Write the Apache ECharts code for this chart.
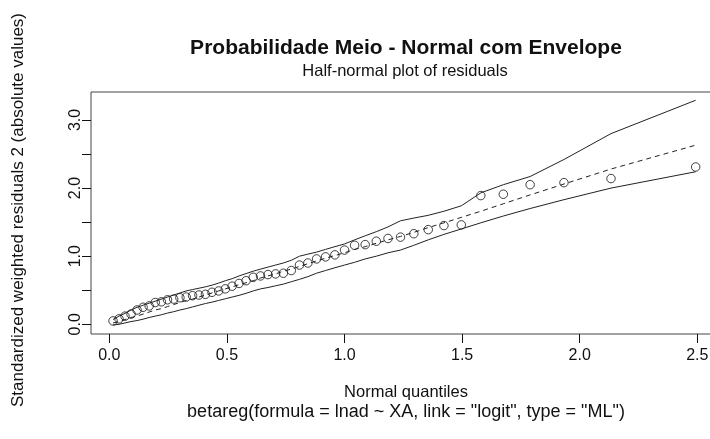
<!DOCTYPE html>
<html>
<head>
<meta charset="utf-8">
<script src="https://cdn.jsdelivr.net/npm/echarts@6/dist/echarts.min.js"></script>
<style>
  html, body { margin: 0; padding: 0; background: #ffffff; }
  #chart { width: 710px; height: 439px; }
</style>
</head>
<body>
<div id="chart"></div>
<script>
// Half-normal quantiles (x) for the 49 ordered absolute residuals
const quantiles = [0.0159, 0.0414, 0.0668, 0.0924, 0.1180, 0.1436, 0.1694, 0.1953, 0.2213, 0.2474,
  0.2738, 0.3003, 0.3270, 0.3540, 0.3812, 0.4087, 0.4366, 0.4648, 0.4933, 0.5222,
  0.5516, 0.5815, 0.6119, 0.6429, 0.6745, 0.7069, 0.7399, 0.7737, 0.8085, 0.8443,
  0.8813, 0.9194, 0.9590, 1.0001, 1.0429, 1.0879, 1.1351, 1.1849, 1.2380, 1.2947,
  1.3559, 1.4227, 1.4965, 1.5795, 1.6752, 1.7891, 1.9330, 2.1330, 2.4930];

// Ordered absolute standardized weighted residuals 2
const residuals = [0.05, 0.08, 0.12, 0.15, 0.21, 0.25, 0.27, 0.32, 0.33, 0.36,
  0.37, 0.39, 0.40, 0.42, 0.43, 0.44, 0.47, 0.49, 0.52, 0.56,
  0.60, 0.64, 0.69, 0.71, 0.73, 0.74, 0.75, 0.79, 0.87, 0.90,
  0.96, 0.99, 1.02, 1.09, 1.16, 1.17, 1.22, 1.26, 1.28, 1.33,
  1.39, 1.45, 1.46, 1.89, 1.91, 2.05, 2.08, 2.14, 2.31];

// Simulated envelope: lower bound, mean, upper bound
const envLower = [-0.01, 0.00, 0.02, 0.04, 0.055, 0.075, 0.10, 0.12, 0.14, 0.165,
  0.185, 0.21, 0.23, 0.255, 0.28, 0.305, 0.325, 0.35, 0.375, 0.40,
  0.425, 0.455, 0.49, 0.52, 0.54, 0.565, 0.59, 0.625, 0.66, 0.70,
  0.75, 0.79, 0.83, 0.87, 0.91, 0.96, 1.00, 1.05, 1.09, 1.16,
  1.24, 1.32, 1.40, 1.49, 1.59, 1.70, 1.83, 2.00, 2.24];

const envMean = [0.02, 0.04, 0.07, 0.10, 0.12, 0.15, 0.18, 0.21, 0.23, 0.26,
  0.29, 0.32, 0.35, 0.37, 0.40, 0.43, 0.46, 0.49, 0.52, 0.55,
  0.58, 0.61, 0.64, 0.68, 0.71, 0.74, 0.78, 0.81, 0.85, 0.89,
  0.93, 0.97, 1.01, 1.05, 1.10, 1.14, 1.19, 1.24, 1.29, 1.35,
  1.42, 1.49, 1.57, 1.66, 1.77, 1.90, 2.06, 2.28, 2.63];

const envUpper = [0.07, 0.12, 0.16, 0.21, 0.25, 0.28, 0.31, 0.34, 0.37, 0.40,
  0.43, 0.46, 0.49, 0.51, 0.53, 0.55, 0.575, 0.605, 0.64, 0.67,
  0.71, 0.745, 0.78, 0.81, 0.84, 0.87, 0.90, 0.94, 1.00, 1.03,
  1.06, 1.10, 1.14, 1.18, 1.24, 1.30, 1.36, 1.43, 1.52, 1.56,
  1.60, 1.66, 1.74, 1.93, 2.05, 2.17, 2.42, 2.80, 3.29];

// Axis ticks and labels
const xTicks = [0, 0.5, 1, 1.5, 2, 2.5];
const yTicks = [0, 0.5, 1, 1.5, 2, 2.5, 3];
const yLabels = [0, 1, 2, 3];

const titleText = 'Probabilidade Meio - Normal com Envelope';
const subtitleText = 'Half-normal plot of residuals';
const xTitle = 'Normal quantiles';
const xCaption = 'betareg(formula = lnad ~ XA, link = "logit", type = "ML")';
const yTitle = 'Standardized weighted residuals 2 (absolute values)';

const FONT = '"Liberation Sans", Arial, sans-serif';
const INK = '#111';

const pairs = (ys) => quantiles.map((q, i) => [q, ys[i]]);

const chart = echarts.init(document.getElementById('chart'), null, { renderer: 'canvas' });

chart.setOption({
  animation: false,
  backgroundColor: '#ffffff',
  grid: {
    left: 91, top: 92, width: 627, height: 242,
    show: true, borderColor: '#444', borderWidth: 1,
    backgroundColor: 'transparent',
    outerBoundsMode: 'none'
  },
  xAxis: {
    type: 'value', min: -0.0778, max: 2.5879,
    splitLine: { show: false },
    axisLine: { show: false, onZero: false },
    axisTick: { show: true, customValues: xTicks, length: 9, lineStyle: { color: INK, width: 1 } },
    axisLabel: {
      customValues: xTicks, margin: 14,
      formatter: (v) => v.toFixed(1),
      fontFamily: FONT, fontSize: 16, color: INK
    }
  },
  yAxis: {
    type: 'value', min: -0.1424, max: 3.411,
    splitLine: { show: false },
    axisLine: { show: false, onZero: false },
    axisTick: { show: true, customValues: yTicks, length: 9, lineStyle: { color: INK, width: 1 } },
    axisLabel: {
      customValues: yLabels, rotate: 90, margin: 7.5,
      formatter: (v) => v.toFixed(1),
      fontFamily: FONT, fontSize: 16, color: INK
    }
  },
  graphic: [
    { type: 'text', x: 406, y: 48, style: { text: titleText, font: 'bold 21px ' + FONT, fill: INK, align: 'center', verticalAlign: 'middle' } },
    { type: 'text', x: 405, y: 71, style: { text: subtitleText, font: '16.5px ' + FONT, fill: INK, align: 'center', verticalAlign: 'middle' } },
    { type: 'text', x: 406, y: 392, style: { text: xTitle, font: '16.5px ' + FONT, fill: INK, align: 'center', verticalAlign: 'middle' } },
    { type: 'text', x: 406, y: 412, style: { text: xCaption, font: '18px ' + FONT, fill: INK, align: 'center', verticalAlign: 'middle' } },
    { type: 'text', x: 18, y: 210, rotation: Math.PI / 2, style: { text: yTitle, font: '17px ' + FONT, fill: INK, align: 'center', verticalAlign: 'middle' } }
  ],
  series: [
    {
      type: 'line', data: pairs(envUpper), showSymbol: false, silent: true,
      lineStyle: { color: '#222', width: 1 }
    },
    {
      type: 'line', data: pairs(envLower), showSymbol: false, silent: true,
      lineStyle: { color: '#222', width: 1 }
    },
    {
      type: 'line', data: pairs(envMean), showSymbol: false, silent: true,
      lineStyle: { color: '#222', width: 1, type: [5, 4] }
    },
    {
      type: 'scatter', data: pairs(residuals), symbol: 'circle', symbolSize: 8.5,
      itemStyle: { color: 'rgba(255,255,255,0)', borderColor: '#111', borderWidth: 1 }
    }
  ]
});
</script>
</body>
</html>
